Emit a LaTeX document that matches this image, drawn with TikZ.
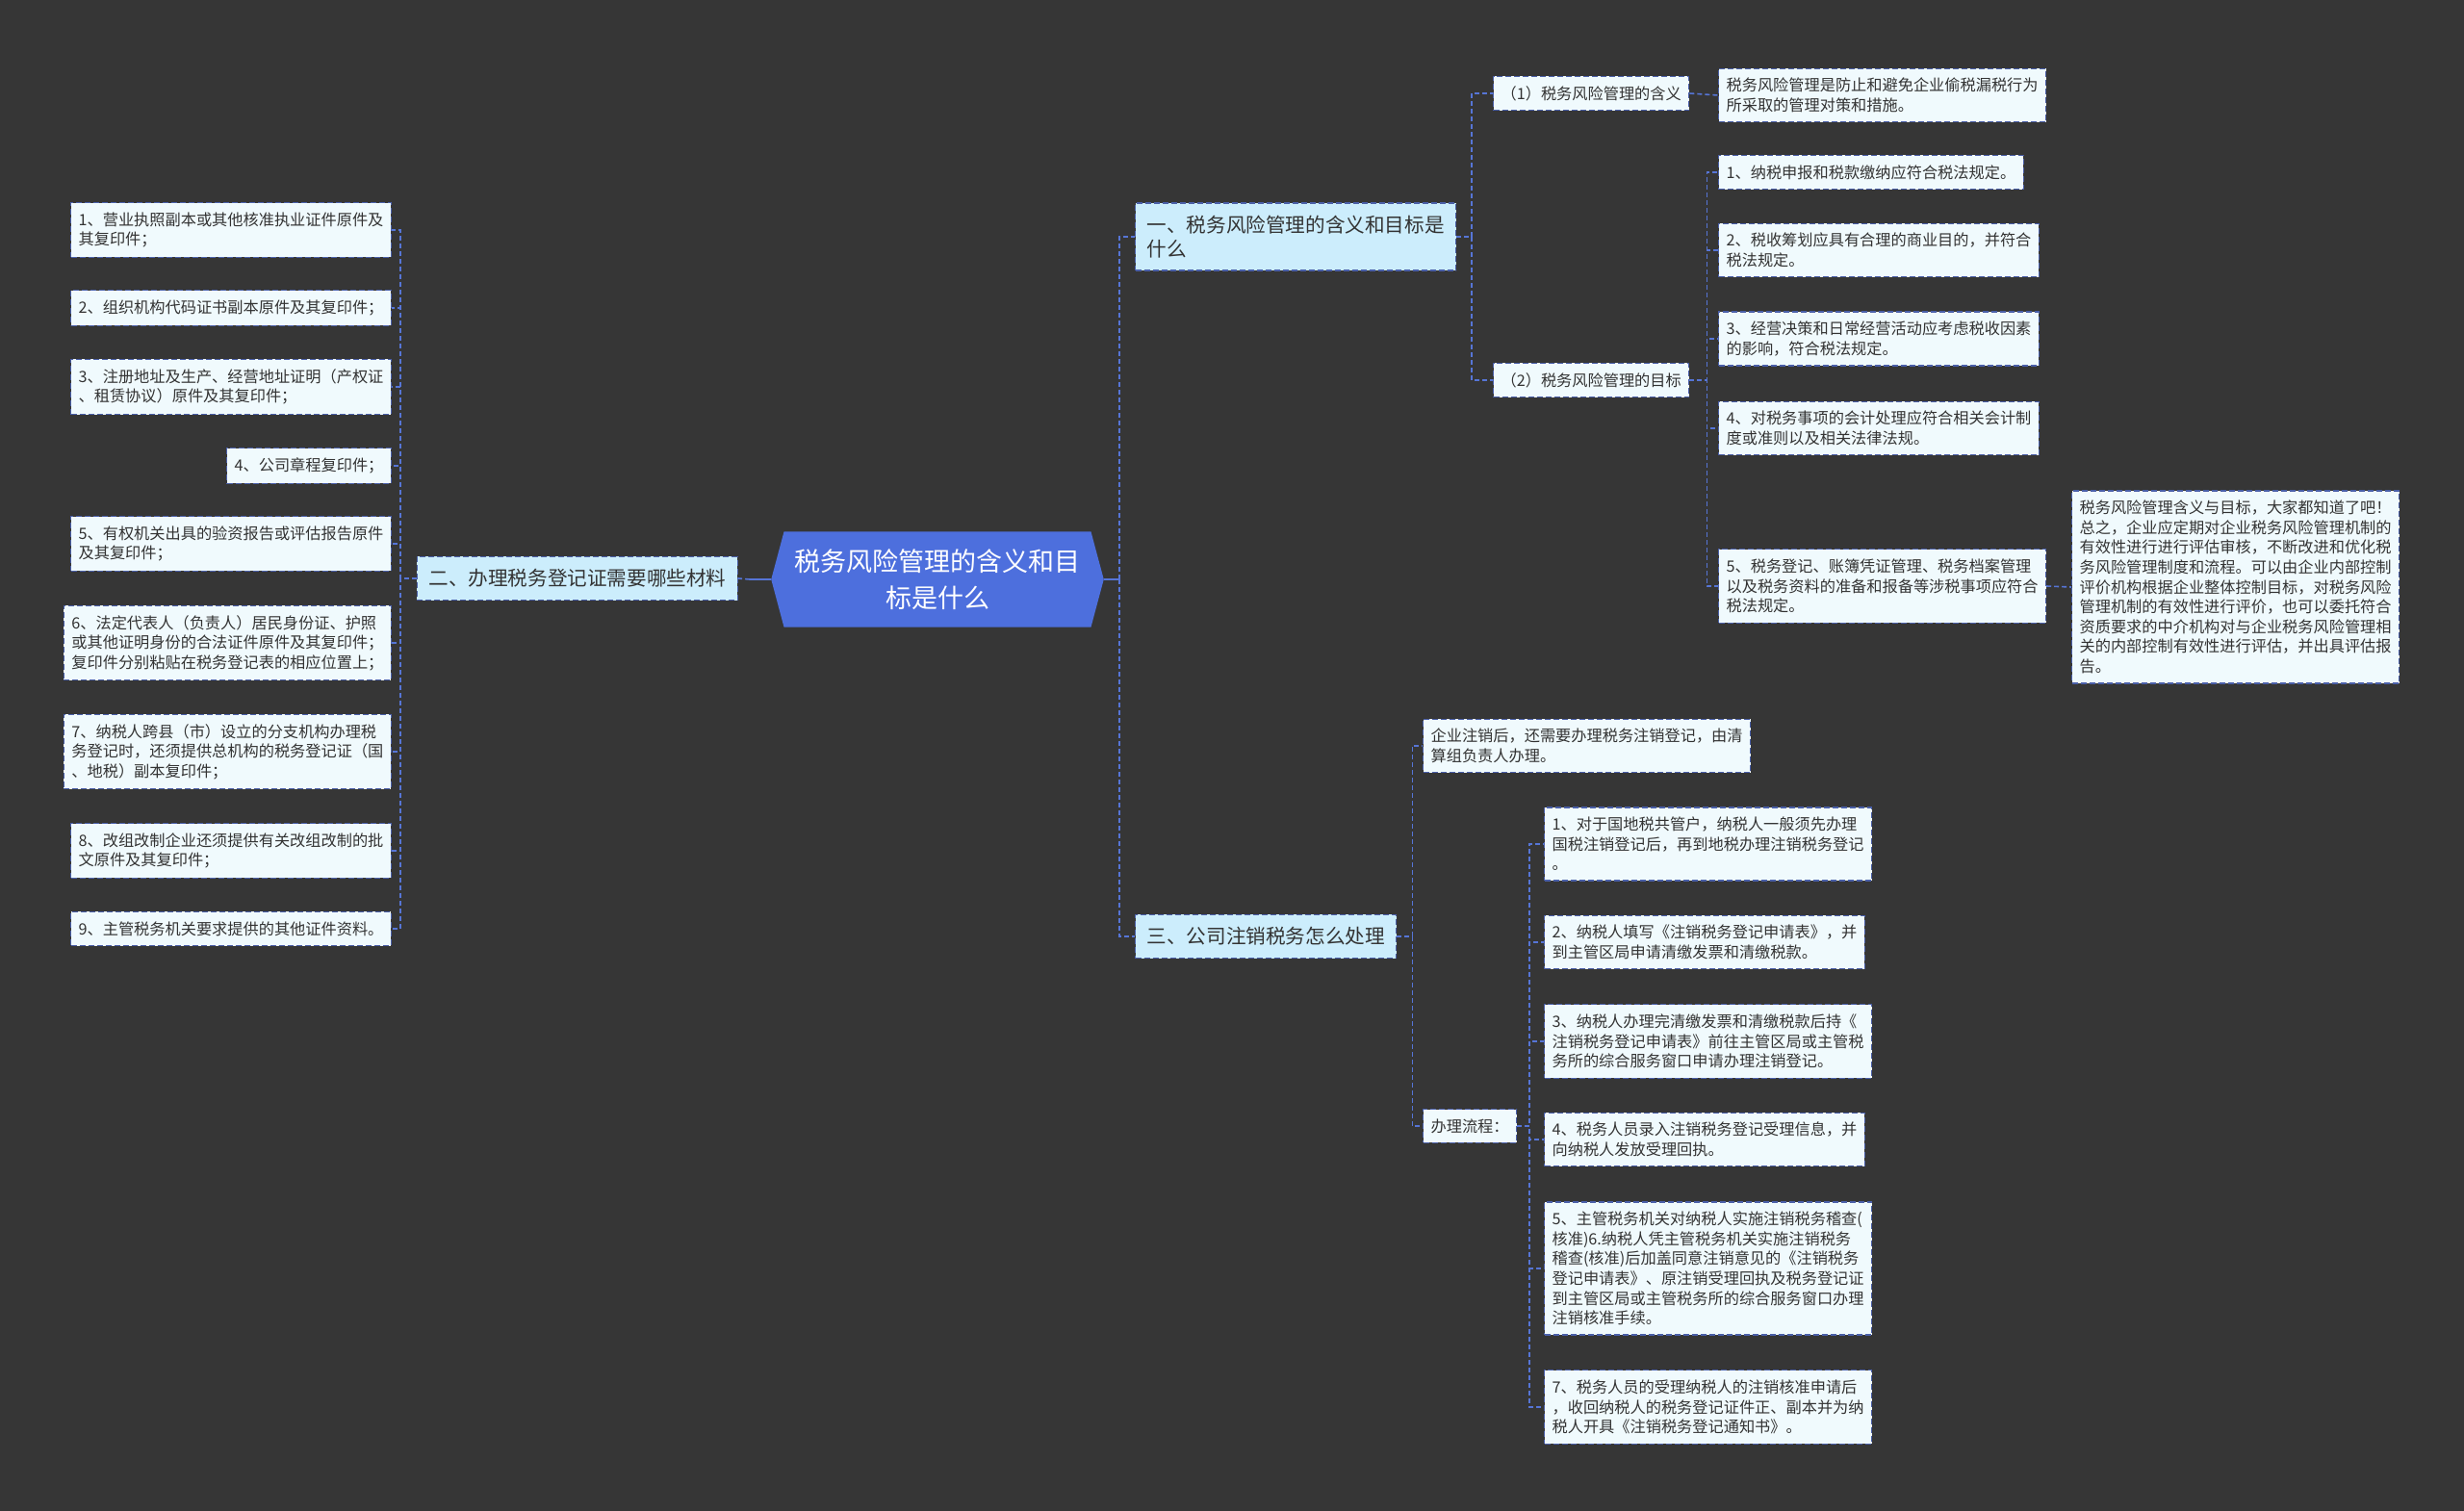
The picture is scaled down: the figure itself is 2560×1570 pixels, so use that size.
\documentclass[tikz,border=0pt]{standalone}
\usepackage{fontspec}
\setmainfont{Noto Sans CJK SC}
\usetikzlibrary{
	positioning
	,shapes.symbols
}
\definecolor{bgdark}{HTML}{363636}
\definecolor{rootblue}{HTML}{4D6FDD}
\definecolor{branchfill}{HTML}{CCEDFC}
\definecolor{leaffill}{HTML}{F0FAFD}
\definecolor{edgeblue}{HTML}{4A5FA8}
\definecolor{linkblue}{HTML}{5675D6}
\definecolor{textdark}{HTML}{333333}
\tikzset{
	box/.style={
		draw=edgeblue
		,line width=1.2pt
		,dash pattern=on 6pt off 3pt
		,align=left
		,text=textdark
	}
	,leaf/.style={
		box
		,fill=leaffill
		,inner xsep=8pt
		,inner ysep=10pt
		,font=\fontsize{16.2}{20.6}\selectfont
	}
	,branch/.style={
		box
		,fill=branchfill
		,inner xsep=12pt
		,inner ysep=13pt
		,font=\fontsize{20.6}{25}\selectfont
	}
	,topic/.style={
		signal
		,signal to=west and east
		,signal pointer angle=150
		,fill=rootblue
		,text=white
		,align=center
		,inner xsep=11pt
		,inner ysep=18pt
		,font=\fontsize{27}{38}\selectfont
	}
	,link/.style={draw=linkblue, line width=1.6pt, dash pattern=on 5pt off 3pt}
	,rootlink/.style={draw=linkblue, line width=2pt}
}

\begin{document}
\begin{tikzpicture}[x=1pt, y=-1pt]
\fill[bgdark] (0,0) rectangle (2560,1570);
\useasboundingbox (0,0) rectangle (2560,1570);

% centre
\node[topic] (root) at (974,602) {税务风险管理的含义和目\\标是什么};

% main branches
\node[branch, anchor=west] (n1) at (1179,246) {一、税务风险管理的含义和目标是\\什么};
\node[branch, anchor=east] (n2) at (767,601) {二、办理税务登记证需要哪些材料};
\node[branch, anchor=west] (n3) at (1179,973) {三、公司注销税务怎么处理};

% materials
\node[leaf, anchor=east] (m1) at (407,239) {1、营业执照副本或其他核准执业证件原件及\\其复印件；};
\node[leaf, anchor=east] (m2) at (407,320) {2、组织机构代码证书副本原件及其复印件；};
\node[leaf, anchor=east] (m3) at (407,402) {3、注册地址及生产、经营地址证明（产权证\\、租赁协议）原件及其复印件；};
\node[leaf, anchor=east] (m4) at (407,484) {4、公司章程复印件；};
\node[leaf, anchor=east] (m5) at (407,565) {5、有权机关出具的验资报告或评估报告原件\\及其复印件；};
\node[leaf, anchor=east] (m6) at (407,668) {6、法定代表人（负责人）居民身份证、护照\\或其他证明身份的合法证件原件及其复印件；\\复印件分别粘贴在税务登记表的相应位置上；};
\node[leaf, anchor=east] (m7) at (407,781) {7、纳税人跨县（市）设立的分支机构办理税\\务登记时，还须提供总机构的税务登记证（国\\、地税）副本复印件；};
\node[leaf, anchor=east] (m8) at (407,884) {8、改组改制企业还须提供有关改组改制的批\\文原件及其复印件；};
\node[leaf, anchor=east] (m9) at (407,965) {9、主管税务机关要求提供的其他证件资料。};

% meaning and goals
\node[leaf, anchor=west] (a1) at (1551,97) {（1）税务风险管理的含义};
\node[leaf, anchor=west] (a2) at (1551,395) {（2）税务风险管理的目标};
\node[leaf, anchor=west] (d1) at (1785,99) {税务风险管理是防止和避免企业偷税漏税行为\\所采取的管理对策和措施。};
\node[leaf, anchor=west] (g1) at (1785,179) {1、纳税申报和税款缴纳应符合税法规定。};
\node[leaf, anchor=west] (g2) at (1785,260) {2、税收筹划应具有合理的商业目的，并符合\\税法规定。};
\node[leaf, anchor=west] (g3) at (1785,352) {3、经营决策和日常经营活动应考虑税收因素\\的影响，符合税法规定。};
\node[leaf, anchor=west] (g4) at (1785,445) {4、对税务事项的会计处理应符合相关会计制\\度或准则以及相关法律法规。};
\node[leaf, anchor=west] (g5) at (1785,609) {5、税务登记、账簿凭证管理、税务档案管理\\以及税务资料的准备和报备等涉税事项应符合\\税法规定。};
\node[leaf, anchor=west] (sum) at (2152,610) {税务风险管理含义与目标，大家都知道了吧！\\总之，企业应定期对企业税务风险管理机制的\\有效性进行进行评估审核，不断改进和优化税\\务风险管理制度和流程。可以由企业内部控制\\评价机构根据企业整体控制目标，对税务风险\\管理机制的有效性进行评价，也可以委托符合\\资质要求的中介机构对与企业税务风险管理相\\关的内部控制有效性进行评估，并出具评估报\\告。};

% cancellation
\node[leaf, anchor=west] (c0) at (1478,775) {企业注销后，还需要办理税务注销登记，由清\\算组负责人办理。};
\node[leaf, anchor=west] (p0) at (1478,1170) {办理流程：};
\node[leaf, anchor=west] (s1) at (1604,877) {1、对于国地税共管户，纳税人一般须先办理\\国税注销登记后，再到地税办理注销税务登记\\。};
\node[leaf, anchor=west] (s2) at (1604,979) {2、纳税人填写《注销税务登记申请表》，并\\到主管区局申请清缴发票和清缴税款。};
\node[leaf, anchor=west] (s3) at (1604,1082) {3、纳税人办理完清缴发票和清缴税款后持《\\注销税务登记申请表》前往主管区局或主管税\\务所的综合服务窗口申请办理注销登记。};
\node[leaf, anchor=west] (s4) at (1604,1184) {4、税务人员录入注销税务登记受理信息，并\\向纳税人发放受理回执。};
\node[leaf, anchor=west] (s5) at (1604,1318) {5、主管税务机关对纳税人实施注销税务稽查(\\核准)6.纳税人凭主管税务机关实施注销税务\\稽查(核准)后加盖同意注销意见的《注销税务\\登记申请表》、原注销受理回执及税务登记证\\到主管区局或主管税务所的综合服务窗口办理\\注销核准手续。};
\node[leaf, anchor=west] (s6) at (1604,1462) {7、税务人员的受理纳税人的注销核准申请后\\，收回纳税人的税务登记证件正、副本并为纳\\税人开具《注销税务登记通知书》。};

% links
\draw[rootlink] (root.west) -- ++(-22,0) coordinate (rl);
\draw[rootlink] (root.east) -- ++(16,0) coordinate (rr);
\draw[link] (rl) -- (n2.east);
\draw[link] (rr) |- (n1.west) (rr) |- (n3.west);
\draw[link] (n2.west) -- ++(-17,0) |- (m1.east) (n2.west) -- ++(-17,0) |- (m2.east)
	(n2.west) -- ++(-17,0) |- (m3.east) (n2.west) -- ++(-17,0) |- (m4.east)
	(n2.west) -- ++(-17,0) |- (m5.east) (n2.west) -- ++(-17,0) |- (m6.east)
	(n2.west) -- ++(-17,0) |- (m7.east) (n2.west) -- ++(-17,0) |- (m8.east)
	(n2.west) -- ++(-17,0) |- (m9.east);
\draw[link] (n1.east) -- ++(16,0) |- (a1.west) (n1.east) -- ++(16,0) |- (a2.west);
\draw[link] (a1.east) -- (d1.west);
\draw[link] (a2.east) -- ++(18,0) |- (g1.west) (a2.east) -- ++(18,0) |- (g2.west)
	(a2.east) -- ++(18,0) |- (g3.west) (a2.east) -- ++(18,0) |- (g4.west)
	(a2.east) -- ++(18,0) |- (g5.west);
\draw[link] (g5.east) -- (sum.west);
\draw[link] (n3.east) -- ++(16,0) |- (c0.west) (n3.east) -- ++(16,0) |- (p0.west);
\draw[link] (p0.east) -- ++(13,0) |- (s1.west) (p0.east) -- ++(13,0) |- (s2.west)
	(p0.east) -- ++(13,0) |- (s3.west) (p0.east) -- ++(13,0) |- (s4.west)
	(p0.east) -- ++(13,0) |- (s5.west) (p0.east) -- ++(13,0) |- (s6.west);
\end{tikzpicture}
\end{document}
